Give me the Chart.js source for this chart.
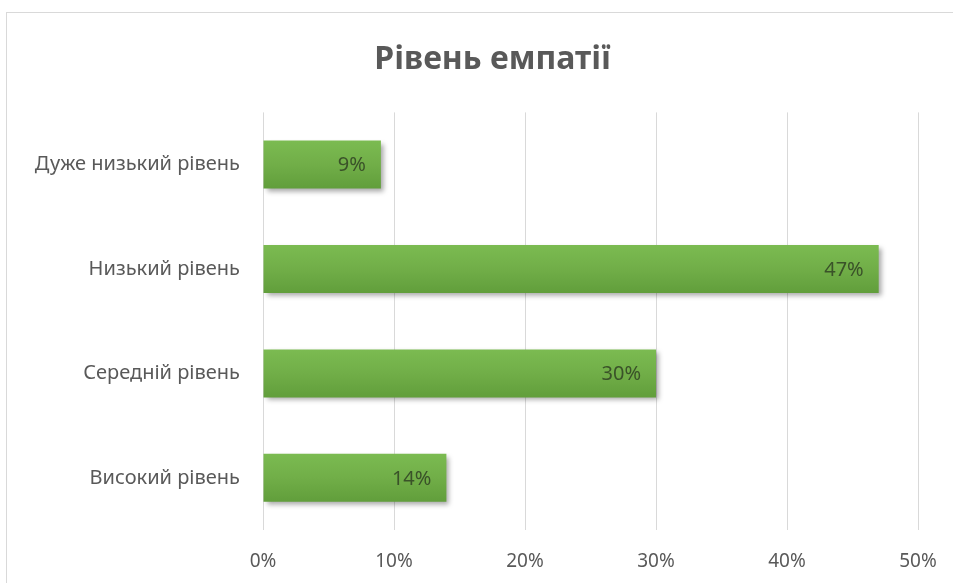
<!DOCTYPE html>
<html lang="uk">
<head>
    <meta charset="UTF-8">
    <title>Рівень емпатії</title>
    <style>
        body {
            margin: 0;
            background: #fff;
            overflow: hidden;
        }
        .frame {
            position: absolute;
            left: 6px;
            top: 12px;
            width: 971px;
            height: 570px;
            border-left: 1px solid #d9d9d9;
            border-top: 1px solid #d9d9d9;
        }
    </style>
</head>
<body>
    <div class="frame">
        <canvas id="empathyChart" width="971" height="570"></canvas>
    </div>

    <script src="https://cdn.jsdelivr.net/npm/chart.js"></script>
    <script>
        const levels = ['Дуже низький рівень', 'Низький рівень', 'Середній рівень', 'Високий рівень'];
        const shares = [9, 47, 30, 14];
        const tickValues = [0, 10, 20, 30, 40, 50];

        const font = '"Noto Sans", "DejaVu Sans", sans-serif';

        // soft shadow under the bars, like the Excel style
        const barShadow = {
            id: 'barShadow',
            beforeDatasetsDraw(chart) {
                const ctx = chart.ctx;
                ctx.save();
                ctx.shadowColor = 'rgba(0, 0, 0, 0.35)';
                ctx.shadowBlur = 5;
                ctx.shadowOffsetX = 3;
                ctx.shadowOffsetY = 3;
            },
            afterDatasetsDraw(chart) {
                chart.ctx.restore();
            }
        };

        // value labels inside the end of each bar
        const valueLabels = {
            id: 'valueLabels',
            afterDatasetsDraw(chart) {
                const ctx = chart.ctx;
                const meta = chart.getDatasetMeta(0);
                ctx.save();
                ctx.font = '20px ' + font;
                ctx.fillStyle = '#3a5229';
                ctx.textAlign = 'right';
                ctx.textBaseline = 'middle';
                meta.data.forEach((bar, i) => {
                    ctx.fillText(shares[i] + '%', bar.x - 15, bar.y + 1);
                });
                ctx.restore();
            }
        };

        // light-to-dark shading down each bar
        function barFill(c) {
            const el = c.element;
            if (!el || !isFinite(el.y) || !el.height) return '#70ad47';
            const g = c.chart.ctx.createLinearGradient(0, el.y - el.height / 2, 0, el.y + el.height / 2);
            g.addColorStop(0, '#7bbb51');
            g.addColorStop(0.5, '#71ae48');
            g.addColorStop(1, '#619e3b');
            return g;
        }

        const ctx = document.getElementById('empathyChart').getContext('2d');
        const chart = new Chart(ctx, {
            type: 'bar',
            data: {
                labels: levels,
                datasets: [{
                    data: shares,
                    backgroundColor: barFill,
                    borderWidth: 0,
                    categoryPercentage: 1,
                    barPercentage: 0.46
                }]
            },
            options: {
                indexAxis: 'y',
                responsive: false,
                animation: false,
                layout: {
                    padding: 0
                },
                plugins: {
                    legend: { display: false },
                    tooltip: { enabled: false },
                    title: {
                        display: true,
                        text: 'Рівень емпатії',
                        color: '#595959',
                        font: { family: font, size: 32, weight: 'bold' },
                        padding: { top: 28, bottom: 33 }
                    }
                },
                scales: {
                    x: {
                        min: 0,
                        max: 50,
                        afterBuildTicks(axis) {
                            axis.ticks = tickValues.map(v => ({ value: v }));
                        },
                        afterFit(axis) {
                            axis.height = 53;
                        },
                        ticks: {
                            color: '#595959',
                            font: { family: font, size: 19 },
                            padding: 20,
                            callback: v => v + '%'
                        },
                        grid: {
                            color: '#d9d9d9',
                            drawTicks: false
                        },
                        border: { display: false }
                    },
                    y: {
                        afterFit(axis) {
                            axis.width = 256;
                        },
                        ticks: {
                            color: '#595959',
                            font: { family: font, size: 20 },
                            padding: 15
                        },
                        grid: { display: false },
                        border: { display: false }
                    },
                    // empty spacer on the right so the title stays centred on the whole chart
                    spacer: {
                        axis: 'y',
                        type: 'category',
                        position: 'right',
                        afterFit(axis) {
                            axis.width = 60;
                        },
                        ticks: { display: false },
                        grid: { display: false },
                        border: { display: false }
                    }
                }
            },
            plugins: [barShadow, valueLabels]
        });
        // second pass so the bar gradients know their positions
        chart.update();
    </script>
</body>
</html>
